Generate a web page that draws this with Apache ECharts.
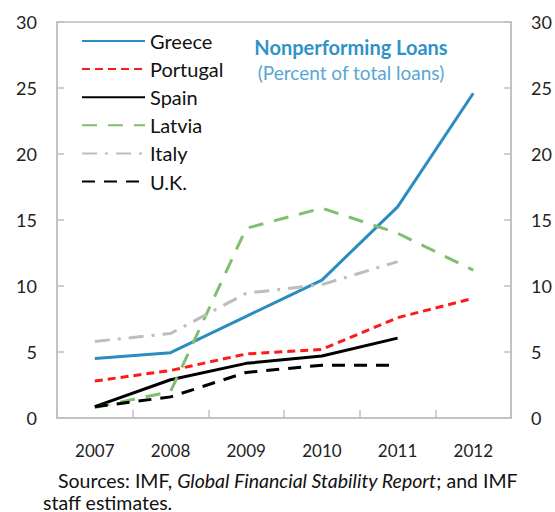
<!DOCTYPE html>
<html>
<head>
<meta charset="utf-8">
<script src="https://cdn.jsdelivr.net/npm/echarts@6/dist/echarts.min.js"></script>
<style>html,body{margin:0;padding:0;background:#fff}#c{width:555px;height:512px}</style>
</head>
<body>
<div id="c"></div>
<script>
const years = ['2007', '2008', '2009', '2010', '2011', '2012'];
const greece = [4.5, 4.95, 7.7, 10.45, 16.0, 24.6];
const portugal = [2.8, 3.6, 4.85, 5.2, 7.6, 9.07];
const spain = [0.86, 2.9, 4.14, 4.7, 6.05, null];
const latvia = [0.8, 2.0, 14.37, 15.9, 14.0, 11.2];
const italy = [5.8, 6.4, 9.45, 10.1, 11.85, null];
const uk = [0.85, 1.6, 3.45, 4.0, 4.0, null];
const yTicks = [0, 5, 10, 15, 20, 25, 30];

const font = 'Lato';
const axisGray = '#bfbfbf';

function line(name, data, color, type, width) {
  return {
    name: name, type: 'line', data: data, yAxisIndex: 0,
    showSymbol: false, symbol: 'none', connectNulls: false,
    lineStyle: { color: color, width: width || 3, type: type, cap: 'butt' },
    itemStyle: { color: color },
    silent: true, animation: false
  };
}

const yAxisCommon = {
  type: 'value', min: yTicks[0], max: yTicks[yTicks.length - 1], interval: 5,
  axisLine: { show: true, lineStyle: { color: axisGray, width: 1.5 } },
  axisTick: { show: true, inside: true, length: 7, lineStyle: { color: axisGray, width: 1.5 } },
  splitLine: { show: false },
  axisLabel: { color: '#222', fontFamily: font, fontSize: 18, margin: 20 }
};

const chart = echarts.init(document.getElementById('c'), null, { renderer: 'svg' });
chart.setOption({
  animation: false,
  backgroundColor: '#fff',
  grid: { left: 57, right: 41, top: 22, bottom: 94, show: true, borderColor: axisGray, borderWidth: 1.5 },
  title: [
    { text: 'Nonperforming Loans', left: 346, top: 32, textAlign: 'center',
      textStyle: { color: '#2f93c8', fontFamily: font, fontWeight: 'bold', fontSize: 20 } },
    { text: '(Percent of total loans)', left: 346, top: 58, textAlign: 'center',
      textStyle: { color: '#5aa5d4', fontFamily: font, fontWeight: 'normal', fontSize: 19 } }
  ],
  legend: {
    orient: 'vertical', left: 81, top: 31, padding: 0,
    itemWidth: 63, itemHeight: 14, itemGap: 8.1,
    itemStyle: { opacity: 0, borderWidth: 0 },
    textStyle: { color: '#111', fontFamily: font, fontSize: 20 },
    data: ['Greece', 'Portugal', 'Spain', 'Latvia', 'Italy', 'U.K.']
  },
  xAxis: {
    type: 'category', data: years, boundaryGap: true,
    axisLine: { show: true, lineStyle: { color: axisGray, width: 1.5 } },
    axisTick: { show: true, inside: true, length: 8, lineStyle: { color: axisGray, width: 1.5 } },
    axisLabel: { color: '#222', fontFamily: font, fontSize: 17, margin: 24 }
  },
  yAxis: [
    Object.assign({}, yAxisCommon, { position: 'left' }),
    Object.assign({}, yAxisCommon, { position: 'right' })
  ],
  series: [
    line('Greece', greece, '#2b8cc0', 'solid'),
    line('Portugal', portugal, '#ff1a1a', [8, 5]),
    line('Spain', spain, '#000000', 'solid'),
    line('Latvia', latvia, '#7fbf6e', [15, 11]),
    line('Italy', italy, '#bdbdbd', [15, 8, 3, 8]),
    line('U.K.', uk, '#000000', [13, 9])
  ],
  graphic: [
    { type: 'text', left: 58, top: 470,
      style: { text: '{n|Sources: IMF, }{i|Global Financial Stability Report}{n|; and IMF}',
        rich: {
          n: { fontFamily: font, fontSize: 19.5, lineHeight: 20, fill: '#111' },
          i: { fontFamily: font, fontSize: 19.5, lineHeight: 20, fontStyle: 'italic', fill: '#111' }
        } } },
    { type: 'text', left: 43, top: 492,
      style: { text: 'staff estimates.', fontFamily: font, fontSize: 19.5, lineHeight: 19, fill: '#111' } }
  ]
});
</script>
</body>
</html>
